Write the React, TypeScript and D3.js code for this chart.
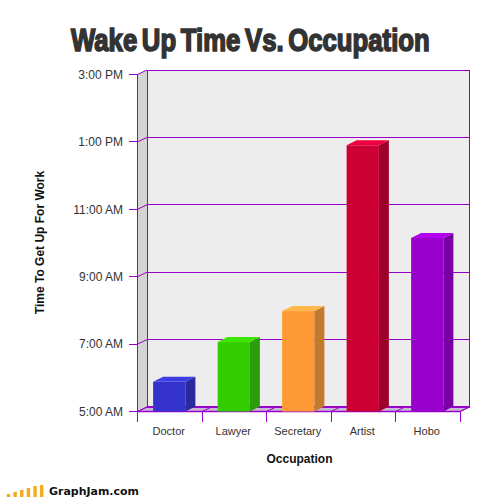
import React from "react";
import * as d3 from "d3";

const categories = ["Doctor", "Lawyer", "Secretary", "Artist", "Hobo"];
// hours after midnight
const wakeHours = [5.88, 7.06, 7.98, 12.9, 10.15];
const hourTicks = [5, 7, 9, 11, 13, 15];
const hourLabels = ["5:00 AM", "7:00 AM", "9:00 AM", "11:00 AM", "1:00 PM", "3:00 PM"];
const barFront = ["#3333cc", "#33cc00", "#ff9933", "#cc0033", "#9900cc"];
const barSide = ["#2a2a9e", "#2a9e0a", "#c47a2c", "#9e0029", "#7a00a3"];
const barTop = ["#3d3de6", "#3de600", "#ffb84d", "#f00040", "#b300f0"];
// the little rising bars of the site logo
const logoHeights = [3, 5, 7, 9, 11, 12];

const width = 504;
const height = 497;
const PURPLE = "#9900cc";

const App: React.FC = () => {
    const x = d3.scaleBand<string>().domain(categories).range([137.5, 460]).paddingInner(0.5).paddingOuter(0.25);
    const y = d3.scaleLinear().domain([5, 15]).range([411.5, 74.5]);
    const logoX = d3.scaleBand<number>().domain(d3.range(logoHeights.length)).range([3.5, 46.7]).padding(0.5);

    const wallDx = 9.5, wallDy = -4.5;
    const barDx = 10, barDy = -5;
    const left = x.range()[0], right = x.range()[1];
    const base = y(5), top = y(15);
    const step = x.step();
    const floorDx = 9.5;

    const poly = (pts: [number, number][]) => pts.map((p) => p.join(",")).join(" ");

    return (
        <svg width={width} height={height} style={{ position: "absolute", left: 0, top: 0, background: "#fff" }}>
            <text transform="translate(71,51) scale(0.83,1)" fontFamily="Liberation Sans" fontWeight="bold" fontSize={31} fill="#333"
                stroke="#333" strokeWidth={1.6} wordSpacing={-3}>
                Wake Up Time Vs. Occupation
            </text>

            {/* back wall and side wall */}
            <rect x={left + wallDx} y={top + wallDy} width={right - left} height={base - top} fill="#ededed" />
            <polygon points={poly([[left, top], [left + wallDx, top + wallDy], [left + wallDx, base + wallDy], [left, base]])} fill="#d4d4d4" />

            {/* floor */}
            <polygon points={poly([[left, base], [left + wallDx, base + wallDy], [right + wallDx, base + wallDy], [right, base]])} fill="#c9b8d4" />

            {hourTicks.map((h) => (
                <g key={h}>
                    <line x1={left - 9} x2={left} y1={y(h)} y2={y(h)} stroke={PURPLE} shapeRendering="crispEdges" />
                    <line x1={left} x2={left + wallDx} y1={y(h)} y2={y(h) + wallDy} stroke={PURPLE} />
                    <line x1={left + wallDx} x2={right + wallDx} y1={y(h) + wallDy} y2={y(h) + wallDy} stroke={PURPLE} shapeRendering="crispEdges" />
                </g>
            ))}
            <line x1={left} x2={left} y1={top} y2={base} stroke={PURPLE} shapeRendering="crispEdges" />
            <line x1={left + wallDx} x2={left + wallDx} y1={top + wallDy} y2={base + wallDy} stroke={PURPLE} shapeRendering="crispEdges" />
            <line x1={right + wallDx} x2={right + wallDx} y1={top + wallDy} y2={base + wallDy} stroke={PURPLE} shapeRendering="crispEdges" />
            <line x1={right} x2={right + wallDx} y1={base} y2={base + wallDy} stroke={PURPLE} />
            <line x1={left} x2={right} y1={base} y2={base} stroke={PURPLE} strokeWidth={1.4} />
            <line x1={left + wallDx} x2={right + wallDx} y1={base + wallDy} y2={base + wallDy} stroke={PURPLE} strokeWidth={2} />

            {/* category ticks and their floor slants */}
            {d3.range(categories.length + 1).map((i) => {
                const tx = left + i * step;
                return (
                    <g key={i}>
                        <line x1={tx} x2={tx} y1={base} y2={base + 10} stroke={PURPLE} shapeRendering="crispEdges" />
                        <line x1={tx} x2={tx + floorDx} y1={base} y2={base + wallDy} stroke={PURPLE} />
                    </g>
                );
            })}

            {categories.map((c, i) => {
                const bx = (x(c) as number) - 0.5;
                const bw = x.bandwidth();
                const by = y(wakeHours[i]);
                return (
                    <g key={c}>
                        <rect x={bx} y={by} width={bw} height={base - by} fill={barFront[i]} />
                        <polygon points={poly([[bx + bw, by], [bx + bw + barDx, by + barDy], [bx + bw + barDx, base + barDy], [bx + bw, base]])} fill={barSide[i]} />
                        <polygon points={poly([[bx, by], [bx + barDx, by + barDy], [bx + bw + barDx, by + barDy], [bx + bw, by]])} fill={barTop[i]} />
                    </g>
                );
            })}

            {hourTicks.map((h, i) => (
                <text key={h} x={123} y={y(h)} dy="0.35em" textAnchor="end" fontFamily="Liberation Sans" fontSize={12} fill="#333">
                    {hourLabels[i]}
                </text>
            ))}
            {categories.map((c) => (
                <text key={c} x={(x(c) as number) + x.bandwidth() / 2 - 1} y={435} textAnchor="middle" fontFamily="Liberation Sans" fontSize={11} fill="#333">
                    {c}
                </text>
            ))}

            <text x={299.5} y={463} textAnchor="middle" fontFamily="Liberation Sans" fontWeight="bold" fontSize={12} fill="#111">
                Occupation
            </text>
            <text transform="translate(44,242.5) rotate(-90)" textAnchor="middle" fontFamily="Liberation Sans" fontWeight="bold" fontSize={12} fill="#111">
                Time To Get Up For Work
            </text>

            {/* footer logo */}
            {logoHeights.map((h, i) => (
                <rect key={i} x={logoX(i)} y={497 - h} width={logoX.bandwidth()} height={h} fill="#f7a81b" />
            ))}
            <text x={49} y={495} fontFamily="DejaVu Sans" fontWeight="bold" fontSize={10.5} fill="#111" textLength={90} lengthAdjust="spacingAndGlyphs">
                GraphJam.com
            </text>
        </svg>
    );
};

export default App;
